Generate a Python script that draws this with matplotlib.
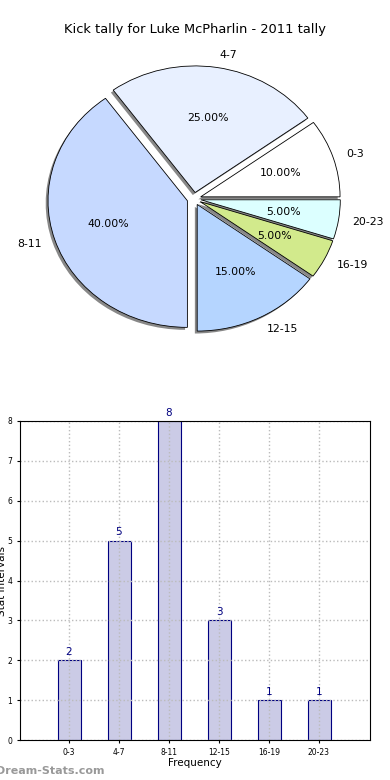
import numpy as np
import matplotlib
matplotlib.use('Agg')
import matplotlib.pyplot as plt

# Kick tally, Luke McPharlin 2011
intervals = ['0-3', '4-7', '8-11', '12-15', '16-19', '20-23']
counts = [2, 5, 8, 3, 1, 1]
slice_colors = ['#ffffff', '#e8f0ff', '#c6d9ff', '#b5d5ff', '#d2ea8c', '#dcffff']

fig = plt.figure(figsize=(3.9, 7.8), dpi=100)

# Pie oben (nicht kreisrund, wie im Original)
ax1 = fig.add_axes([0, 0.5, 1, 0.5])
ax1.pie(counts, labels=intervals, colors=slice_colors, autopct='%.2f%%',
        explode=[0.05] * len(counts), startangle=0,
        shadow={'ox': -0.012, 'oy': -0.014, 'facecolor': '#888888',
                'edgecolor': 'none', 'alpha': 1},
        wedgeprops={'edgecolor': 'k', 'linewidth': 0.6},
        textprops={'fontsize': 7.8})
ax1.set_aspect('auto')
ax1.set_xlim(-1.392, 1.406)
ax1.set_ylim(-1.510, 1.570)
fig.text(0.5, 1 - 30 / 780, 'Kick tally for Luke McPharlin - 2011 tally',
         ha='center', va='center', fontsize=9.4)

# Balken unten
ax2 = fig.add_axes([20 / 390, 40 / 780, 350 / 390, 319 / 780])
x = np.arange(len(counts))
ax2.bar(x, counts, width=0.46, color='#cbcbe6', edgecolor='#000080',
        linewidth=0.8, zorder=1)
for xi, c in zip(x, counts):
    ax2.text(xi, c + 0.08, str(c), ha='center', va='bottom',
             color='#000080', fontsize=7.5)
ax2.set_xlim(-0.98, 6.02)
ax2.set_ylim(0, 8)
ax2.set_xticks(x)
ax2.set_xticklabels(intervals)
ax2.tick_params(labelsize=5.5, length=2)
ax2.grid(True, linestyle=':', color='#bbbbbb', linewidth=1, zorder=3)
ax2.set_axisbelow(False)
for sp in ax2.spines.values():
    sp.set_zorder(4)
ax2.set_xlabel('Frequency', fontsize=7.5, labelpad=1)
ax2.set_ylabel('Stat Intervals', fontsize=7.5)
ax2.yaxis.set_label_coords(-0.037, 0.5)

fig.text(-0.01, 0.005, 'Dream-Stats.com', color='#999999', fontsize=8,
         fontweight='bold', ha='left', va='bottom')

plt.savefig('out.png', dpi=100)
